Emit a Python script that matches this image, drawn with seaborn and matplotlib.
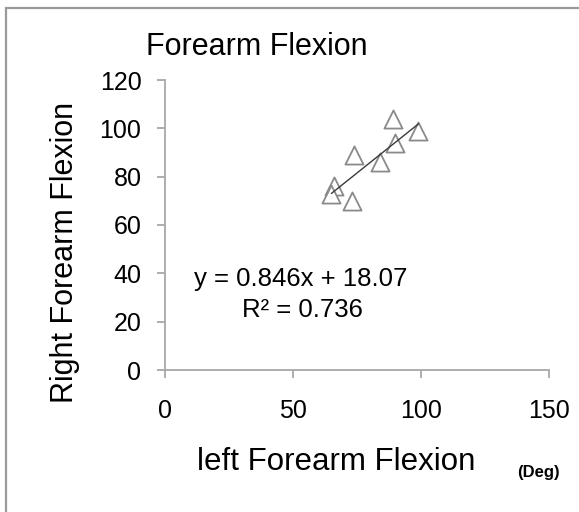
import matplotlib
matplotlib.use('Agg')
import matplotlib.pyplot as plt
from matplotlib.patches import Rectangle
import seaborn as sns
import pandas as pd
import numpy as np

# ---- data ----
left_flexion = [89, 99, 90, 74, 84, 66, 65, 73]
right_flexion = [104, 99, 94, 89, 86, 76, 73, 70]
trend_slope = 0.846
trend_intercept = 18.07
r_squared = 0.736
x_ticks = [0, 50, 100, 150]
y_ticks = [0, 20, 40, 60, 80, 100, 120]

title = "Forearm Flexion"
x_label = "left Forearm Flexion"
y_label = "Right Forearm Flexion"
unit_label = "(Deg)"

sns.set_theme(style='white')
plt.rcParams['font.family'] = ['Liberation Sans', 'DejaVu Sans']

W, H = 579, 512
fig = plt.figure(figsize=(W / 100, H / 100), dpi=100)

def fx(px):
    return px / W

def fy(py):
    return 1 - py / H

ax = fig.add_axes([fx(165), fy(370), 384 / W, 290 / H])

df = pd.DataFrame({'left': left_flexion, 'right': right_flexion})
sns.scatterplot(data=df, x='left', y='right', marker='^', s=170,
                facecolor='white', edgecolor='#8a8a8a', linewidth=1.3,
                ax=ax, zorder=2)

xs = np.array([min(left_flexion), max(left_flexion)], dtype=float)
trend = pd.DataFrame({'x': xs, 'y': trend_slope * xs + trend_intercept})
sns.lineplot(data=trend, x='x', y='y', color='#3a3a3a', lw=1.0, ax=ax, zorder=3)

ax.set_xlim(0, 150)
ax.set_ylim(0, 120)
ax.set_xticks(x_ticks)
ax.set_yticks(y_ticks)
ax.set_xlabel('')
ax.set_ylabel('')
for s in ['top', 'right']:
    ax.spines[s].set_visible(False)
for s in ['left', 'bottom']:
    ax.spines[s].set_color('#a8a8a8')
    ax.spines[s].set_linewidth(1.3)
ax.tick_params(axis='both', bottom=True, left=True, direction='out', length=6,
               width=1.3, color='#a8a8a8', labelsize=18, labelcolor='black')
ax.tick_params(axis='x', pad=15)
ax.tick_params(axis='y', pad=11)

# texts
fig.text(fx(257), fy(55), title, ha='center', va='baseline', fontsize=22, color='black')
fig.text(fx(336), fy(470), x_label, ha='center', va='baseline', fontsize=22.5, color='black')
fig.text(fx(65), fy(252), y_label, ha='center', va='center', rotation=90, fontsize=22, color='black')
fig.text(fx(538), fy(477), unit_label, ha='center', va='baseline', fontsize=12,
         fontweight='bold', color='black')
fig.text(fx(301), fy(286), f"y = {trend_slope}x + {trend_intercept}", ha='center',
         va='baseline', fontsize=18.5, color='black')
fig.text(fx(302), fy(317), f"R\u00b2 = {r_squared}", ha='center', va='baseline',
         fontsize=18.5, color='black')

# outer chart border (only left and top visible)
fig.add_artist(Rectangle((fx(6), -0.2), 1.5, fy(8) + 0.2, transform=fig.transFigure,
                         fill=False, edgecolor='#9a9a9a', lw=1.6))

fig.savefig('out.png', dpi=100)
